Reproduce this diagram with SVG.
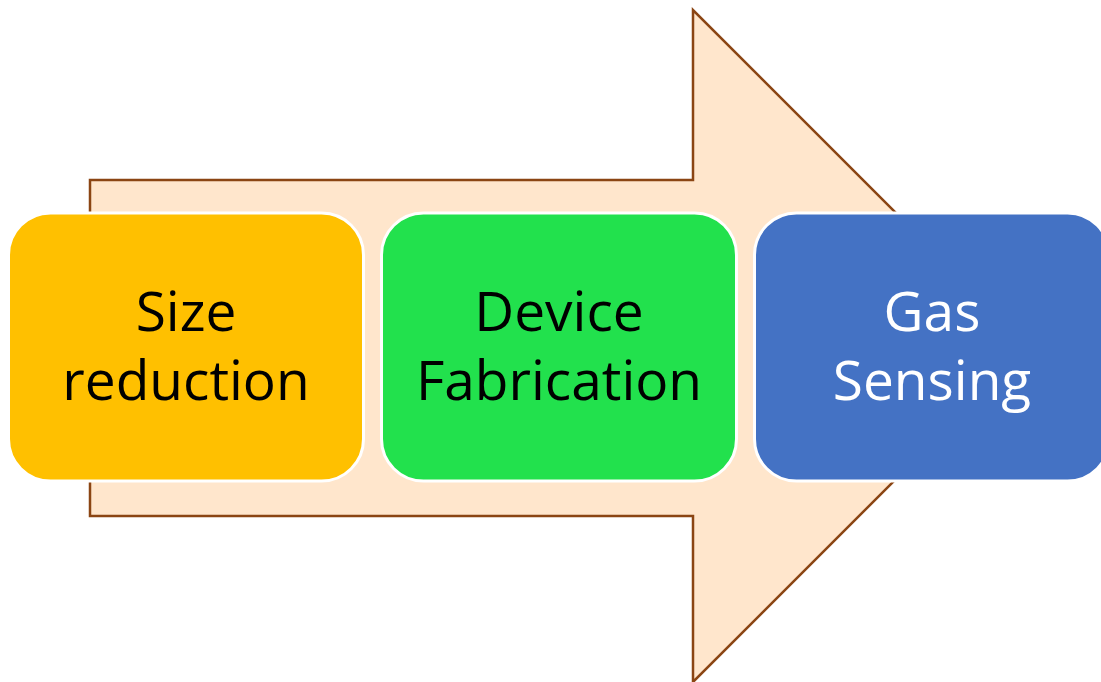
<svg xmlns="http://www.w3.org/2000/svg" width="1101" height="682" viewBox="0 0 1101 682">
  <style>
    .arrow { fill: #FFE6CC; stroke: #8B4513; stroke-width: 2.5; }
    .step { stroke: #FFFFFF; stroke-width: 3; }
    .label { font-family: "Open Sans", "Liberation Sans", sans-serif; font-size: 55px; text-anchor: middle; }
  </style>
  <rect width="1101" height="682" fill="#FFFFFF"/>
  <g id="flow-arrow">
    <path class="arrow" d="M90,180 H693 V10 L1029,346 L693,682 V516 H90 Z"/>
  </g>
  <g id="connectors"/>
  <g id="size-reduction">
    <rect class="step" x="8.5" y="213" width="355" height="268" rx="42" fill="#FFC000"/>
    <text class="label" x="186" y="331" fill="#000000">Size</text>
    <text class="label" x="186" y="400" fill="#000000">reduction</text>
  </g>
  <g id="device-fabrication">
    <rect class="step" x="381.5" y="213" width="355" height="268" rx="42" fill="#22E14D"/>
    <text class="label" x="559" y="331" fill="#000000">Device</text>
    <text class="label" x="559" y="400" fill="#000000">Fabrication</text>
  </g>
  <g id="gas-sensing">
    <rect class="step" x="754.5" y="213" width="355" height="268" rx="42" fill="#4472C4"/>
    <text class="label" x="932" y="331" fill="#FFFFFF">Gas</text>
    <text class="label" x="932" y="400" fill="#FFFFFF">Sensing</text>
  </g>
</svg>
